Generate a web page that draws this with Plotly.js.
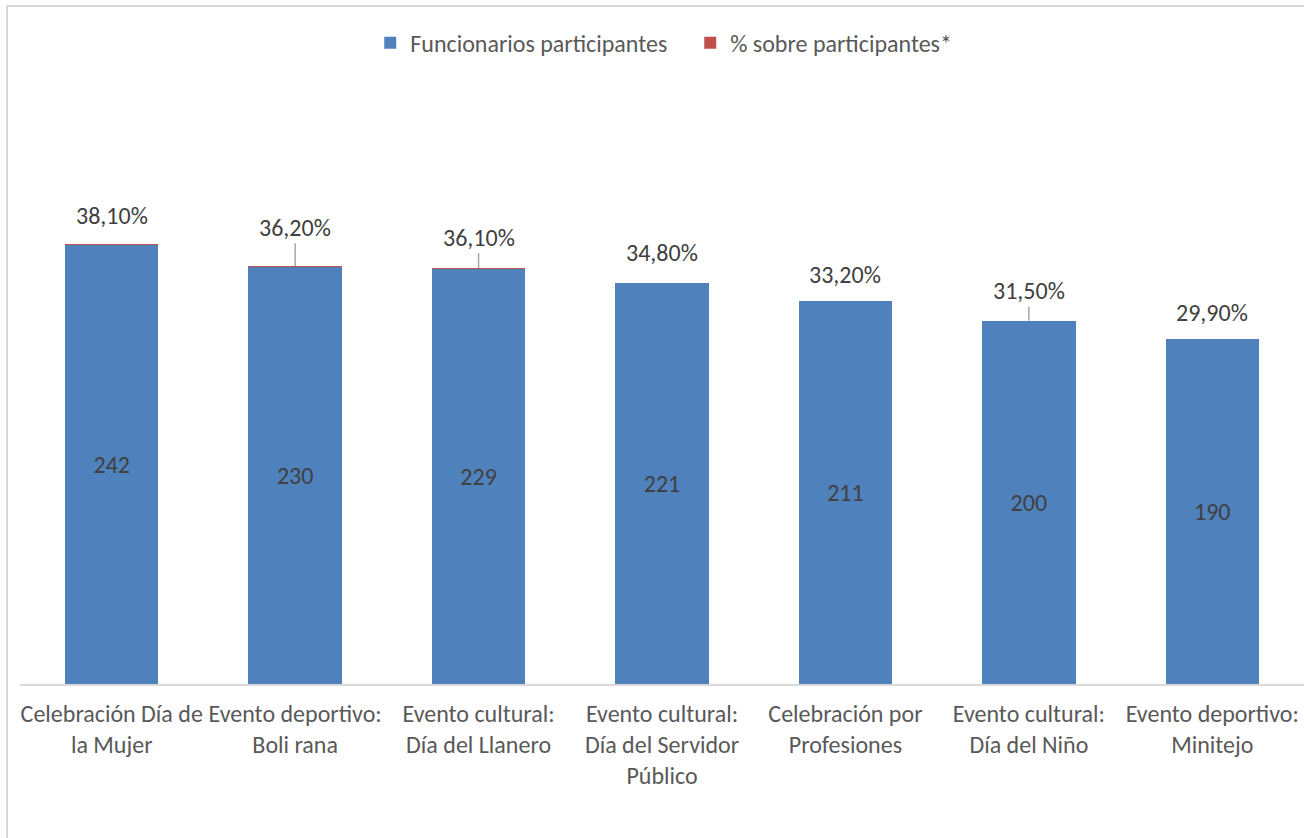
<!DOCTYPE html>
<html>
<head>
<meta charset="utf-8">
<script src="https://cdn.plot.ly/plotly-3.0.1.min.js"></script>
<style>
  body { margin: 0; background: #fff; }
  #frame { position: absolute; left: 6px; top: 5px; right: 0; bottom: 0;
           border-left: 2px solid #d9d9d9; border-top: 2px solid #d9d9d9; pointer-events: none; }
</style>
</head>
<body>
<div id="chart" style="width:1304px;height:838px;"></div>
<div id="frame"></div>
<script>
// --- data ---
const categories = ['Celebración Día de la Mujer', 'Evento deportivo: Boli rana', 'Evento cultural: Día del Llanero',
  'Evento cultural: Día del Servidor Público', 'Celebración por Profesiones', 'Evento cultural: Día del Niño',
  'Evento deportivo: Minitejo'];
const tickLabels = ['Celebración Día de<br>la Mujer', 'Evento deportivo:<br>Boli rana', 'Evento cultural:<br>Día del Llanero',
  'Evento cultural:<br>Día del Servidor<br>Público', 'Celebración por<br>Profesiones', 'Evento cultural:<br>Día del Niño',
  'Evento deportivo:<br>Minitejo'];
const participantes = [242, 230, 229, 221, 211, 200, 190];
const porcentaje = [0.381, 0.362, 0.361, 0.348, 0.332, 0.315, 0.299];

// label offsets above bar top (px) and whether a leader line is drawn
const labelGap = [29, 39, 31, 30, 26, 30, 26];
const leader = [false, true, true, false, false, true, false];

const font = 'Carlito, Lato, "Open Sans", sans-serif';
const fmtPct = v => (v * 100).toFixed(2).replace('.', ',') + '%';

const traces = [
  {
    type: 'bar', x: categories, y: participantes, name: 'Funcionarios participantes',
    marker: { color: '#4f81bd', line: { width: 0 } },
    text: participantes.map(String), textposition: 'inside', insidetextanchor: 'middle',
    textfont: { family: font, size: 24, color: '#404040' }, hoverinfo: 'skip'
  },
  {
    type: 'bar', x: categories, y: porcentaje, name: '% sobre participantes*',
    marker: { color: '#c0504d', line: { width: 0 } }, hoverinfo: 'skip'
  }
];

const annotations = categories.map((c, i) => {
  const top = participantes[i] + porcentaje[i];
  const a = {
    x: c, y: top, xref: 'x', yref: 'y', text: fmtPct(porcentaje[i]),
    font: { family: font, size: 24, color: '#404040' }
  };
  if (leader[i]) {
    Object.assign(a, { showarrow: true, arrowhead: 0, arrowwidth: 1.5, arrowcolor: '#a6a6a6',
      ax: 0, ay: -labelGap[i], standoff: 0 });
  } else {
    Object.assign(a, { showarrow: false, yanchor: 'middle', yshift: labelGap[i] });
  }
  return a;
});

Plotly.newPlot('chart', traces, {
  width: 1304, height: 838,
  barmode: 'stack', bargap: 0.49,
  margin: { l: 20, r: 0, t: 140, b: 154 },
  paper_bgcolor: '#fff', plot_bgcolor: '#fff',
  font: { family: font, size: 24, color: '#595959' },
  showlegend: true,
  legend: { orientation: 'h', x: 0.522, xanchor: 'center', y: 1.178, yanchor: 'middle',
    font: { family: font, size: 24, color: '#595959' }, traceorder: 'normal', itemwidth: 30,
    entrywidth: 275, entrywidthmode: 'pixels' },
  xaxis: {
    tickmode: 'array', tickvals: categories, ticktext: tickLabels,
    showline: true, linecolor: '#d9d9d9', linewidth: 2, ticks: '', ticklabelstandoff: 7,
    tickfont: { family: font, size: 24, color: '#595959' }, fixedrange: true
  },
  yaxis: { range: [0, 300], visible: false, showgrid: false, zeroline: false, fixedrange: true },
  annotations: annotations
}, { displayModeBar: false, staticPlot: true });
</script>
</body>
</html>
